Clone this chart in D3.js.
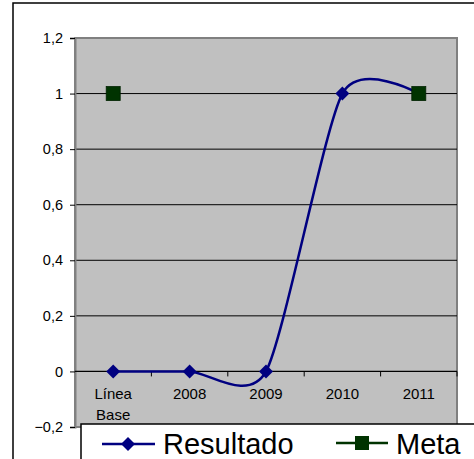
<!DOCTYPE html>
<html lang="es">
<head>
  <meta charset="UTF-8">
  <title>Resultado vs Meta</title>
  <script src="https://d3js.org/d3.v7.min.js"></script>
  <style>
    body { margin: 0; background: #fff; }
    svg { display: block; font-family: "Liberation Sans", Arial, sans-serif; }
  </style>
</head>
<body>
<svg width="474" height="459"></svg>
<script>
const categories = ["Línea Base", "2008", "2009", "2010", "2011"];
const resultado = [0, 0, 0, 1, 1];
const meta = [1, null, null, null, 1];
const yTicks = [-0.2, 0, 0.2, 0.4, 0.6, 0.8, 1, 1.2];

const svg = d3.select("svg");
const plot = {left: 75, right: 457, top: 38, bottom: 427};

const x = d3.scaleBand().domain(categories).range([plot.left, plot.right]).padding(0);
const y = d3.scaleLinear().domain([-0.2, 1.2]).range([plot.bottom, plot.top]);
const fmt = v => d3.format(".1~f")(v).replace(".", ",");

// outer chart border
svg.append("rect")
  .attr("x", 13).attr("y", 3).attr("width", 480).attr("height", 480)
  .attr("fill", "#fff").attr("stroke", "#000").attr("stroke-width", 1.5);

// plot area
svg.append("rect")
  .attr("x", plot.left).attr("y", plot.top)
  .attr("width", plot.right - plot.left).attr("height", plot.bottom - plot.top)
  .attr("fill", "#c0c0c0").attr("stroke", "#808080").attr("stroke-width", 2);

// gridlines
svg.append("g").selectAll("line")
  .data(yTicks.filter(t => t > 0 && t < 1.2))
  .join("line")
  .attr("x1", plot.left).attr("x2", plot.right)
  .attr("y1", d => y(d)).attr("y2", d => y(d))
  .attr("stroke", "#000").attr("stroke-width", 1);

// y axis
const yAxis = svg.append("g")
  .attr("transform", `translate(${plot.left},0)`)
  .call(d3.axisLeft(y).tickValues(yTicks).tickFormat(fmt).tickSize(5).tickPadding(7));
yAxis.select(".domain").attr("stroke", "#808080").attr("stroke-width", 2);
yAxis.selectAll(".tick line").attr("stroke", "#000");
yAxis.selectAll("text").attr("font-size", 14.5).attr("fill", "#000")
  .attr("font-family", "Liberation Sans, Arial, sans-serif");

// x axis at 0
const xAxis = svg.append("g").attr("transform", `translate(0,${y(0)})`);
xAxis.append("line")
  .attr("x1", plot.left).attr("x2", plot.right)
  .attr("stroke", "#000").attr("stroke-width", 1.2);
xAxis.selectAll("line.tk")
  .data(categories.slice(1).map(c => x(c)).concat([plot.right]))
  .join("line")
  .attr("class", "tk")
  .attr("x1", d => d).attr("x2", d => d)
  .attr("y1", 0).attr("y2", 5)
  .attr("stroke", "#000");
xAxis.selectAll("text")
  .data(categories)
  .join("text")
  .attr("x", d => x(d) + x.bandwidth() / 2)
  .attr("y", 28)
  .attr("text-anchor", "middle")
  .attr("font-size", 15)
  .each(function (d) {
    const parts = d.split(" ");
    d3.select(this).selectAll("tspan")
      .data(parts)
      .join("tspan")
      .attr("x", x(d) + x.bandwidth() / 2)
      .attr("dy", (p, i) => i === 0 ? 0 : 21)
      .text(p => p);
  });

const cx = c => x(c) + x.bandwidth() / 2;

// Resultado smooth line
const line = d3.line()
  .x((d, i) => cx(categories[i]))
  .y(d => y(d))
  .curve(d3.curveCardinal.tension(0.3));
svg.append("path")
  .datum(resultado)
  .attr("d", line)
  .attr("fill", "none")
  .attr("stroke", "#000080")
  .attr("stroke-width", 2.5);

const diamond = s => `M0,${-s}L${s},0L0,${s}L${-s},0Z`;
svg.append("g").selectAll("path")
  .data(resultado)
  .join("path")
  .attr("transform", (d, i) => `translate(${cx(categories[i])},${y(d)})`)
  .attr("d", diamond(7))
  .attr("fill", "#000080");

// Meta markers
svg.append("g").selectAll("rect")
  .data(meta.map((v, i) => ({v, c: categories[i]})).filter(d => d.v != null))
  .join("rect")
  .attr("x", d => cx(d.c) - 7).attr("y", d => y(d.v) - 7)
  .attr("width", 14).attr("height", 14)
  .attr("fill", "#003300").attr("stroke", "#002200").attr("stroke-width", 0.8);

// legend
const lg = svg.append("g");
lg.append("rect")
  .attr("x", 81).attr("y", 424).attr("width", 420).attr("height", 60)
  .attr("fill", "#fff").attr("stroke", "#000").attr("stroke-width", 1.5);
lg.append("line").attr("x1", 102).attr("x2", 155).attr("y1", 444).attr("y2", 444)
  .attr("stroke", "#000080").attr("stroke-width", 2.5);
lg.append("path").attr("transform", "translate(128,444)").attr("d", diamond(7)).attr("fill", "#000080");
lg.append("text").attr("x", 163).attr("y", 454).attr("font-size", 29).text("Resultado");
lg.append("line").attr("x1", 336).attr("x2", 388).attr("y1", 443).attr("y2", 443)
  .attr("stroke", "#003300").attr("stroke-width", 2.5);
lg.append("rect").attr("x", 355).attr("y", 436).attr("width", 14).attr("height", 14).attr("fill", "#003300");
lg.append("text").attr("x", 396).attr("y", 454).attr("font-size", 29).text("Meta");
</script>
</body>
</html>
